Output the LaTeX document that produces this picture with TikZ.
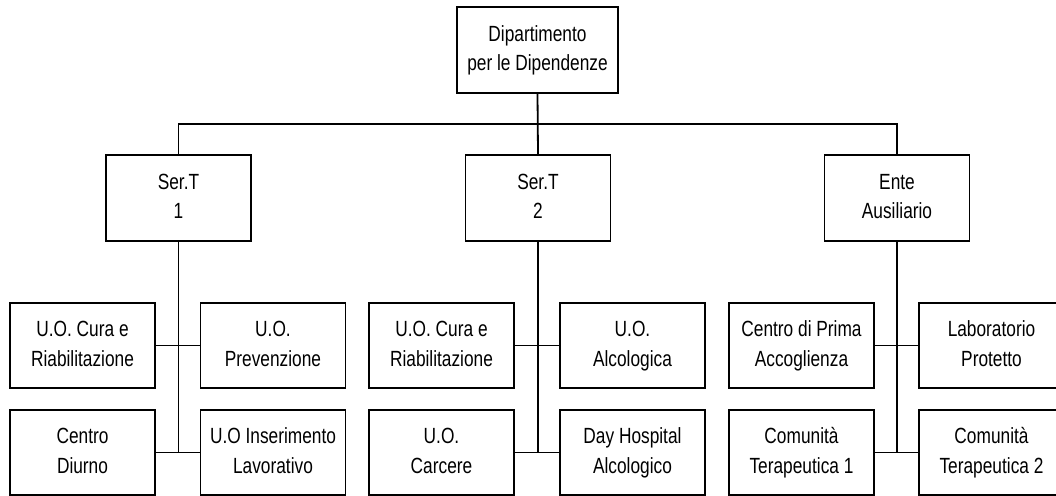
\documentclass[tikz,border=0pt]{standalone}
\usepackage{fontspec}
\usepackage{graphicx}
\newfontfamily\orgfont{Liberation Sans}
\newcommand{\vt}[1]{\scalebox{1}[1.27]{\begin{tabular}{@{}c@{}}#1\end{tabular}}}
\begin{document}
\begin{tikzpicture}[x=1pt,y=-1pt,
  line width=1.8pt,
  box/.style={draw=black, fill=white, rectangle, inner sep=0pt, align=center,
    minimum width=145pt, minimum height=85pt,
    font=\orgfont\fontsize{17.3}{23.6}\selectfont},
  link/.style={draw=black, line width=1.8pt}]
\useasboundingbox (0,0) rectangle (1056,495);
\fill[white] (0,0) rectangle (1056,495);
% top
\node[box, minimum width=161pt, minimum height=86pt] (top) at (537.5,50) {\vt{Dipartimento\\per le Dipendenze}};
% services
\node[box, minimum height=86pt] (s1) at (178.5,198) {\vt{Ser.T\\1}};
\node[box, minimum height=86pt] (s2) at (538,198) {\vt{Ser.T\\2}};
\node[box, minimum height=86pt] (s3) at (897,198) {\vt{Ente\\Ausiliario}};
% units row 1
\node[box] (a1) at (82.5,345.5) {\vt{U.O. Cura e\\Riabilitazione}};
\node[box] (b1) at (273,345.5) {\vt{U.O.\\Prevenzione}};
\node[box] (a2) at (441.5,345.5) {\vt{U.O. Cura e\\Riabilitazione}};
\node[box] (b2) at (632.5,345.5) {\vt{U.O.\\Alcologica}};
\node[box] (a3) at (801.5,345.5) {\vt{Centro di Prima\\Accoglienza}};
\node[box] (b3) at (991.5,345.5) {\vt{Laboratorio\\Protetto}};
% units row 2
\node[box] (c1) at (82.5,452.5) {\vt{Centro\\Diurno}};
\node[box] (d1) at (273,452.5) {\vt{U.O Inserimento\\Lavorativo}};
\node[box] (c2) at (441.5,452.5) {\vt{U.O.\\Carcere}};
\node[box] (d2) at (632.5,452.5) {\vt{Day Hospital\\Alcologico}};
\node[box] (c3) at (801.5,452.5) {\vt{Comunità\\Terapeutica 1}};
\node[box] (d3) at (991.5,452.5) {\vt{Comunità\\Terapeutica 2}};
% connectors
\draw[link] (top.south) -- (s2.north);
\draw[link] (s1.north) -- ++(0,-30) coordinate (bus) -| (s3.north);
\foreach \i in {1,2,3}{
  \draw[link] (s\i.south) -- (s\i.south |- c\i.east);
  \draw[link] (a\i.east) -- (b\i.west);
  \draw[link] (c\i.east) -- (d\i.west);
}
\end{tikzpicture}
\end{document}
